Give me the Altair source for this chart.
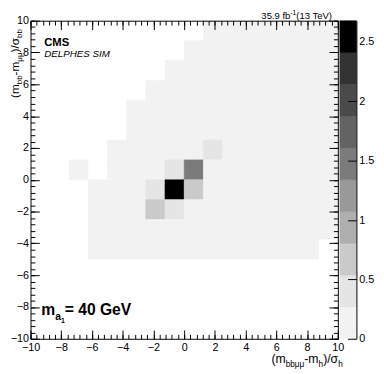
import altair as alt
import pandas as pd

FONT = "Liberation Sans"

# ---------------- data ----------------
bin_edges = [-10.0, -8.75, -7.5, -6.25, -5.0, -3.75, -2.5, -1.25, 0.0,
             1.25, 2.5, 3.75, 5.0, 6.25, 7.5, 8.75, 10.0]

# bin contents: first row is the top row (y from 8.75 to 10), first column is x from -10
z_rows = [
    [0, 0, 0, 0, 0, 0, 0, 0, 0, .1, .1, .1, .1, .1, .1, .1],
    [0, 0, 0, 0, 0, 0, 0, 0, .1, .1, .1, .1, .1, .1, .1, .1],
    [0, 0, 0, 0, 0, 0, 0, .1, .1, .1, .1, .1, .1, .1, .1, .1],
    [0, 0, 0, 0, 0, 0, .1, .1, .1, .1, .1, .1, .1, .1, .1, .1],
    [0, 0, 0, 0, 0, .1, .1, .1, .1, .1, .1, .1, .1, .1, .1, .1],
    [0, 0, 0, 0, 0, .1, .1, .1, .1, .1, .1, .1, .1, .1, .1, .1],
    [0, 0, 0, 0, .1, .1, .1, .1, .1, .4, .1, .1, .1, .1, .1, .1],
    [0, 0, .1, 0, .1, .1, .1, .4, 1.45, .1, .1, .1, .1, .1, .1, .1],
    [0, 0, 0, .1, .1, .1, .4, 2.6, .65, .1, .1, .1, .1, .1, .1, .1],
    [0, 0, 0, .1, .1, .1, .65, .4, .1, .1, .1, .1, .1, .1, .1, .1],
    [0, 0, 0, .1, .1, .1, .1, .1, .1, .1, .1, .1, .1, .1, .1, .1],
    [0, 0, 0, .1, .1, .1, .1, .1, .1, .1, .1, .1, .1, .1, .1, 0],
    [0, 0, 0, 0, 0, 0, 0, 0, 0, 0, 0, 0, 0, 0, 0, 0],
    [0, 0, 0, 0, 0, 0, 0, 0, 0, 0, 0, 0, 0, 0, 0, 0],
    [0, 0, 0, 0, 0, 0, 0, 0, 0, 0, 0, 0, 0, 0, 0, 0],
    [0, 0, 0, 0, 0, 0, 0, 0, 0, 0, 0, 0, 0, 0, 0, 0],
]

z_levels = [0, 0.268, 0.536, 0.804, 1.072, 1.34, 1.608, 1.876, 2.144, 2.412, 2.68]
palette = ["#f2f2f2", "#e5e5e5", "#cacaca", "#afafaf", "#999999",
           "#7b7b7b", "#636363", "#4a4a4a", "#333333", "#000000"]

axis_major = [-10, -8, -6, -4, -2, 0, 2, 4, 6, 8, 10]
axis_minor = [round(-10 + 0.4 * i, 1) for i in range(51)]
cbar_ticks = [0, 0.5, 1, 1.5, 2, 2.5]

# ---------------- tables ----------------
n = len(bin_edges) - 1
cells = []
for j, row in enumerate(z_rows):
    for k, v in enumerate(row):
        if v > 0:
            cells.append({"x0": bin_edges[k], "x1": bin_edges[k + 1],
                          "y0": bin_edges[n - 1 - j], "y1": bin_edges[n - j], "v": v})
cells = pd.DataFrame(cells)

bands = pd.DataFrame({"lo": z_levels[:-1], "hi": z_levels[1:]})
bands["v"] = (bands["lo"] + bands["hi"]) / 2

W, H = 314, 325
CB0, CB1 = 316, 333

color_scale = alt.Scale(type="threshold", domain=z_levels[1:-1], range=palette)
xs = alt.Scale(domain=[-10, 10], nice=False, zero=False)
ys = alt.Scale(domain=[-10, 10], nice=False, zero=False)


def tick_axis(orient, offset, values, size, domain):
    return alt.Axis(orient=orient, offset=offset, values=values, labels=False,
                    ticks=True, tickSize=size, tickColor="black", tickWidth=1,
                    domain=domain, domainColor="black", domainWidth=1,
                    grid=False, title=None, zindex=2)


heat = alt.Chart(cells).mark_rect(strokeWidth=0.5).encode(
    x=alt.X("x0:Q", scale=xs, axis=alt.Axis(orient="bottom", values=axis_major, format="~r",
                                            ticks=False, domain=False, grid=False, title=None,
                                            labelFont=FONT, labelFontSize=11, labelColor="black",
                                            labelPadding=2.5, labelFlush=False, labelOverlap=False)),
    x2="x1:Q",
    y=alt.Y("y0:Q", scale=ys, axis=alt.Axis(orient="left", values=axis_major, format="~r",
                                            ticks=False, domain=False, grid=False, title=None,
                                            labelFont=FONT, labelFontSize=11, labelColor="black",
                                            labelPadding=2, labelFlush=False, labelOverlap=False)),
    y2="y1:Q",
    color=alt.Color("v:Q", scale=color_scale, legend=None),
    stroke=alt.Stroke("v:Q", scale=color_scale, legend=None),
)


def ghost(xaxis, yaxis):
    return alt.Chart(cells).mark_rect(opacity=0).encode(
        x=alt.X("x0:Q", scale=xs, axis=xaxis),
        y=alt.Y("y0:Q", scale=ys, axis=yaxis),
    )


ticks_bl_major = ghost(tick_axis("top", -H, axis_major, 9, True),
                       tick_axis("right", -W, axis_major, 9, True))
ticks_bl_minor = ghost(tick_axis("top", -H, axis_minor, 4.5, False),
                       tick_axis("right", -W, axis_minor, 4.5, False))
ticks_tr_major = ghost(tick_axis("bottom", -H, axis_major, 9, True),
                       tick_axis("left", -W, axis_major, 9, True))
ticks_tr_minor = ghost(tick_axis("bottom", -H, axis_minor, 4.5, False),
                       tick_axis("left", -W, axis_minor, 4.5, False))

cb_x = alt.Scale(domain=[0, 1], range=[CB0, CB1])
cb_y = alt.Scale(domain=[z_levels[0], z_levels[-1]], nice=False, zero=False)

cbar = alt.Chart(bands).mark_rect(strokeWidth=0.5).encode(
    x=alt.X(datum=0, type="quantitative", scale=cb_x, axis=None),
    x2=alt.X2(datum=1),
    y=alt.Y("lo:Q", scale=cb_y, axis=alt.Axis(orient="right", offset=CB1 - W, values=cbar_ticks,
                                              format="~r", ticks=False, domain=True,
                                              domainColor="black", domainWidth=1, grid=False,
                                              title=None, labelFont=FONT, labelFontSize=11,
                                              labelColor="black", labelPadding=2.5,
                                              labelFlush=False, labelOverlap=False, zindex=2)),
    y2="hi:Q",
    color=alt.Color("v:Q", scale=color_scale, legend=None),
    stroke=alt.Stroke("v:Q", scale=color_scale, legend=None),
)
cbar_ticks_layer = alt.Chart(bands).mark_rect(opacity=0).encode(
    x=alt.X(datum=0, type="quantitative", scale=cb_x, axis=None),
    y=alt.Y("lo:Q", scale=cb_y, axis=tick_axis("left", -CB1, cbar_ticks, 9, False)),
)

# ---------------- text ----------------
WN = {' ': 278, '(': 333, ')': 333, '-': 333, '/': 278, '.': 278, 'a': 556, 'b': 556,
      'e': 556, 'f': 278, 'h': 556, 'm': 833, 'T': 611, 'V': 667, 'G': 778, '=': 584,
      'μ': 576, 'σ': 617}
WB = {' ': 278, 'm': 889, 'a': 556, '=': 584, 'G': 778, 'e': 556, 'V': 667}


def tw(s, size, bold=False):
    t = WB if bold else WN
    return sum(t.get(c, 556) for c in s) * size / 1000.0


def runs(pieces, x, y, angle=0, right=False):
    total = sum(tw(p[0], p[1], len(p) > 3 and p[3]) for p in pieces)
    pos = -total if right else 0
    out = []
    for p in pieces:
        s, size, shift = p[0], p[1], p[2]
        bold = len(p) > 3 and p[3]
        italic = len(p) > 4 and p[4]
        if angle == 0:
            px, py = x + pos, y + shift
        else:
            px, py = x + shift, y - pos
        out.append(alt.Chart(pd.DataFrame({"t": [s]})).mark_text(
            align="left", baseline="alphabetic", font=FONT, fontSize=size,
            fontWeight="bold" if bold else "normal",
            fontStyle="italic" if italic else "normal",
            angle=angle, color="black").encode(text="t:N", x=alt.value(px), y=alt.value(py)))
        pos += tw(s, size, bold)
    return out


texts = []
texts += runs([("CMS", 11.5, 0, True)], 14, 26)
texts += runs([("DELPHES SIM", 10, 0, False, True)], 14, 37)
texts += runs([("35.9 fb", 9.7, 0), ("-1", 6.8, -4), (" (13 TeV)", 9.7, 0)], 312, -1.5, right=True)
texts += runs([("m", 16, 0, True), ("a", 10.5, 5, True), ("1", 7, 7.5, True),
               (" = 40 GeV", 16, 0, True)], 11, 301)
texts += runs([("(m", 12.5, 0), ("bbμμ", 8.4, 4), ("-m", 12.5, 0), ("h", 8.4, 4),
               (")/σ", 12.5, 0), ("h", 8.4, 4)], 319, 350, right=True)
texts += runs([("(m", 12, 0), ("bb", 8.2, 3.8), ("-m", 12, 0), ("μμ", 8.2, 3.8),
               (")/σ", 12, 0), ("bb", 8.2, 3.8)], -12, 79, angle=270)

chart = alt.layer(
    heat, ticks_bl_minor, ticks_tr_minor, ticks_bl_major, ticks_tr_major,
    cbar, cbar_ticks_layer, *texts
).resolve_scale(x="independent", y="independent").properties(
    width=W, height=H,
    padding={"left": 23, "top": 9, "right": 39, "bottom": 32},
    autosize=alt.AutoSizeParams(type="none"),
).configure_view(stroke=None)

chart.save("out.html", embed_options={"renderer": "svg", "actions": False})
